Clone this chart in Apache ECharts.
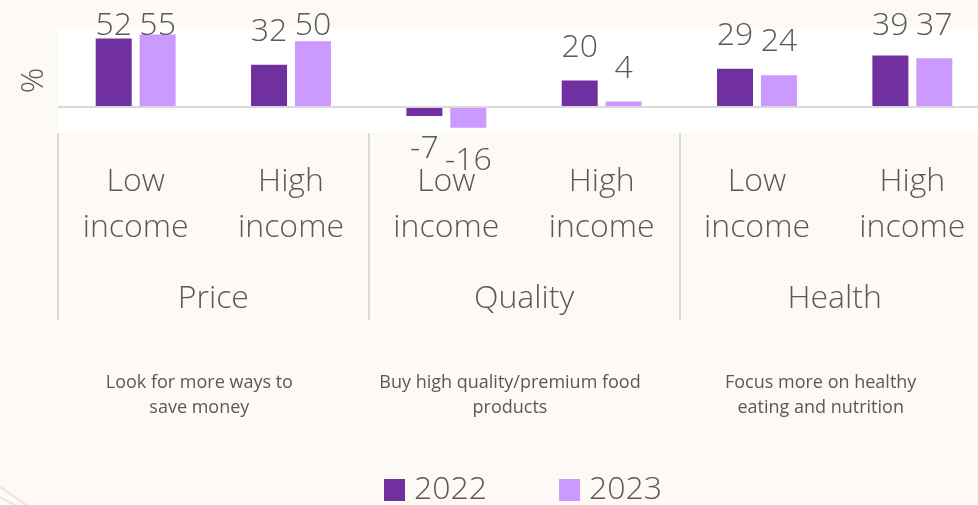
<!DOCTYPE html>
<html>
<head>
<meta charset="utf-8">
<title>Price, Quality, Health</title>
<script src="https://cdn.jsdelivr.net/npm/echarts@6/dist/echarts.min.js"></script>
<style>
  html, body { margin: 0; padding: 0; background: #fdf9f4; }
  #main { width: 978px; height: 505px; }
</style>
</head>
<body>
<div id="main"></div>
<script type="text/javascript">
    // data
    var categories = ['Low\nincome', 'High\nincome', 'Low\nincome', 'High\nincome', 'Low\nincome', 'High\nincome'];
    var groups = ['Price', 'Quality', 'Health'];
    var descriptions = [
        'Look for more ways to\nsave money',
        'Buy high quality/premium food\nproducts',
        'Focus more on healthy\neating and nutrition'
    ];
    var seriesNames = ['2022', '2023'];
    var values2022 = [52, 32, -7, 20, 29, 39];
    var values2023 = [55, 50, -16, 4, 24, 37];

    var textColor = '#595959';
    var font = "'Open Sans', 'Noto Sans', sans-serif";

    var myChart = echarts.init(document.getElementById('main'));

    function barSeries(name, values, color) {
        return {
            name: name,
            type: 'bar',
            xAxisIndex: 0,
            data: values,
            barWidth: 36,
            barGap: '22%',
            itemStyle: { color: color },
            label: {
                show: true,
                position: 'outside',
                distance: 17,
                color: textColor,
                fontFamily: font,
                fontSize: 32,
                fontWeight: 300
            },
            // keep the top labels inside the picture like the original
            labelLayout: function (params) {
                var r = params.labelRect;
                if (r.y < 10) {
                    return { x: r.x + r.width / 2, y: 10, align: 'center', verticalAlign: 'top' };
                }
            }
        };
    }

    var option = {
        backgroundColor: '#fdf9f4',
        animation: false,
        textStyle: { fontFamily: font },
        grid: {
            left: 58,
            top: 28,
            width: 932,
            height: 105,
            outerBoundsMode: 'none',
            containLabel: false,
            show: true,
            backgroundColor: '#ffffff',
            borderWidth: 0
        },
        legend: {
            data: seriesNames,
            icon: 'rect',
            left: 384,
            top: 474,
            padding: 0,
            itemWidth: 21,
            itemHeight: 22,
            itemGap: 72,
            textStyle: { color: textColor, fontSize: 32, fontFamily: font, fontWeight: 300, padding: [0, 0, 0, 4] }
        },
        xAxis: [
            {
                type: 'category',
                data: categories,
                position: 'bottom',
                axisLine: { show: false },
                axisTick: { show: false },
                axisLabel: {
                    interval: 0,
                    margin: 26,
                    color: textColor,
                    fontSize: 32,
                    lineHeight: 46,
                    fontWeight: 300,
                    fontFamily: font
                }
            },
            {
                type: 'category',
                data: groups,
                position: 'bottom',
                axisLine: { show: false },
                axisTick: {
                    show: true,
                    length: 187,
                    lineStyle: { color: '#d9d9d9', width: 2 }
                },
                axisLabel: {
                    interval: 0,
                    margin: 146,
                    color: textColor,
                    fontSize: 32,
                    lineHeight: 40,
                    fontWeight: 300,
                    fontFamily: font
                }
            },
            {
                type: 'category',
                data: descriptions,
                position: 'bottom',
                axisLine: { show: false },
                axisTick: { show: false },
                axisLabel: {
                    interval: 0,
                    margin: 237,
                    color: textColor,
                    fontSize: 18,
                    lineHeight: 25,
                    fontFamily: font,
                    padding: [0, 28, 0, 0]
                }
            }
        ],
        yAxis: {
            type: 'value',
            min: -20,
            max: 60,
            name: '%',
            nameLocation: 'middle',
            nameGap: 8,
            nameTextStyle: { color: textColor, fontSize: 32, fontFamily: font, fontWeight: 300 },
            axisLine: { show: false },
            axisTick: { show: false },
            axisLabel: { show: false },
            splitLine: { show: false }
        },
        // faint decoration in the lower left corner
        graphic: [
            { type: 'line', silent: true, shape: { x1: 0, y1: 487, x2: 28, y2: 506 }, style: { stroke: '#e6e6e2', lineWidth: 2 } },
            { type: 'line', silent: true, shape: { x1: 0, y1: 497, x2: 16, y2: 506 }, style: { stroke: '#e6e6e2', lineWidth: 2 } }
        ],
        series: [
            barSeries(seriesNames[0], values2022, '#7030a0'),
            barSeries(seriesNames[1], values2023, '#cc99ff')
        ]
    };
    // zero line across the plot
    option.series[0].markLine = {
        silent: true,
        symbol: 'none',
        label: { show: false },
        lineStyle: { color: '#d9d9d9', type: 'solid', width: 2 },
        data: [{ yAxis: 0 }]
    };
    myChart.setOption(option);
</script>
</body>
</html>
